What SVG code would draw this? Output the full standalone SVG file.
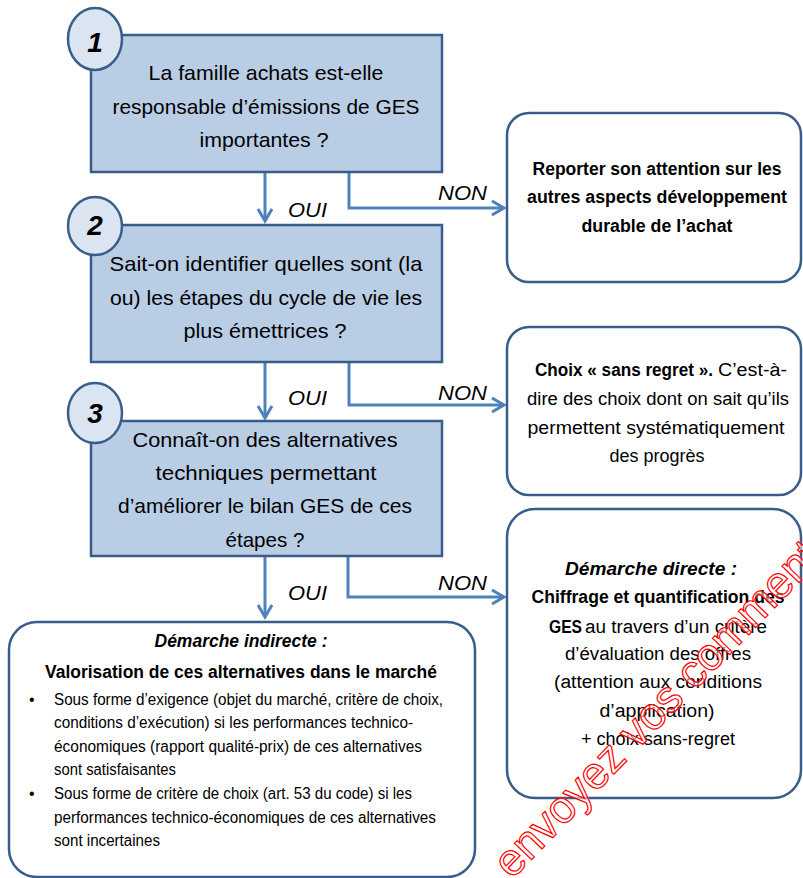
<svg xmlns="http://www.w3.org/2000/svg" width="803" height="878" viewBox="0 0 803 878">
<style>
text{font-family:"Liberation Sans",Arial,sans-serif;fill:#000}
.q{font-size:21px;text-anchor:middle}
.r{font-size:18px;text-anchor:middle}
.s{font-size:16px}
.b{font-weight:bold}
.bi{font-weight:bold;font-style:italic}
.it{font-style:italic}
.qbox{fill:#b9cde5;stroke:#385d8a;stroke-width:2.5}
.circ{fill:#dbe5f1;stroke:#385d8a;stroke-width:2.5}
.rbox{fill:#fff;stroke:#385d8a;stroke-width:2.5}
.num{font-size:28px;font-weight:bold;font-style:italic;text-anchor:middle}
.lab{font-size:21px;font-style:italic}
.con{fill:none;stroke:#4f81bd;stroke-width:3}
.wm{font-size:45px;fill:#fff;fill-opacity:0.55;stroke:#ff0000;stroke-width:1.2}
</style>
<defs>
<marker id="ah" markerUnits="userSpaceOnUse" markerWidth="16" markerHeight="18" refX="13" refY="8" orient="auto" viewBox="0 0 16 18">
<path d="M1,1 L13,8 L1,15" fill="none" stroke="#4f81bd" stroke-width="3"/>
</marker>
</defs>

<g id="connectors">
<path class="con" d="M265,172 V221" marker-end="url(#ah)"/>
<path class="con" d="M349,172 V208 H504" marker-end="url(#ah)"/>
<path class="con" d="M265,362 V418" marker-end="url(#ah)"/>
<path class="con" d="M349,362 V405 H504" marker-end="url(#ah)"/>
<path class="con" d="M265,556 V617" marker-end="url(#ah)"/>
<path class="con" d="M348,556 V597 H504" marker-end="url(#ah)"/>
<text class="lab" x="288" y="217" textLength="39" lengthAdjust="spacingAndGlyphs">OUI</text>
<text class="lab" x="438" y="200" textLength="49" lengthAdjust="spacingAndGlyphs">NON</text>
<text class="lab" x="288" y="405" textLength="39" lengthAdjust="spacingAndGlyphs">OUI</text>
<text class="lab" x="438" y="400" textLength="49" lengthAdjust="spacingAndGlyphs">NON</text>
<text class="lab" x="288" y="600" textLength="39" lengthAdjust="spacingAndGlyphs">OUI</text>
<text class="lab" x="438" y="590" textLength="49" lengthAdjust="spacingAndGlyphs">NON</text>
</g>

<g id="q1">
<rect class="qbox" x="91" y="35" width="351" height="137"/>
<ellipse class="circ" cx="95" cy="39" rx="27" ry="31"/>
<text class="num" x="95" y="52">1</text>
<text class="q" x="266" y="80" textLength="235" lengthAdjust="spacingAndGlyphs">La famille achats est-elle</text>
<text class="q" x="266" y="114" textLength="307" lengthAdjust="spacingAndGlyphs">responsable d’émissions de GES</text>
<text class="q" x="264" y="147" textLength="129" lengthAdjust="spacingAndGlyphs">importantes ?</text>
</g>

<g id="q2">
<rect class="qbox" x="91" y="225" width="351" height="137"/>
<ellipse class="circ" cx="95" cy="226" rx="27" ry="29"/>
<text class="num" x="95" y="235">2</text>
<text class="q" x="266" y="271" textLength="313" lengthAdjust="spacingAndGlyphs">Sait-on identifier quelles sont (la</text>
<text class="q" x="266" y="305" textLength="312" lengthAdjust="spacingAndGlyphs">ou) les étapes du cycle de vie les</text>
<text class="q" x="265" y="338" textLength="163" lengthAdjust="spacingAndGlyphs">plus émettrices ?</text>
</g>

<g id="q3">
<rect class="qbox" x="91" y="421" width="351" height="135"/>
<ellipse class="circ" cx="95" cy="413" rx="27" ry="30"/>
<text class="num" x="95" y="423">3</text>
<text class="q" x="265" y="447" textLength="265" lengthAdjust="spacingAndGlyphs">Connaît-on des alternatives</text>
<text class="q" x="266" y="480" textLength="221" lengthAdjust="spacingAndGlyphs">techniques permettant</text>
<text class="q" x="265" y="513" textLength="294" lengthAdjust="spacingAndGlyphs">d’améliorer le bilan GES de ces</text>
<text class="q" x="265" y="547" textLength="79" lengthAdjust="spacingAndGlyphs">étapes ?</text>
</g>

<g id="r1">
<rect class="rbox" x="507" y="113" width="294" height="169" rx="22"/>
<text class="r b" x="657" y="175" textLength="249" lengthAdjust="spacingAndGlyphs">Reporter son attention sur les</text>
<text class="r b" x="657" y="203" textLength="260" lengthAdjust="spacingAndGlyphs">autres aspects développement</text>
<text class="r b" x="657" y="232" textLength="151" lengthAdjust="spacingAndGlyphs">durable de l’achat</text>
</g>

<g id="r2">
<rect class="rbox" x="507" y="327" width="294" height="168" rx="22"/>
<text class="b" style="font-size:18px" x="535" y="376" textLength="178" lengthAdjust="spacingAndGlyphs">Choix « sans regret ».</text>
<text style="font-size:18px" x="718" y="376" textLength="69" lengthAdjust="spacingAndGlyphs">C’est-à-</text>
<text class="r" x="658" y="405" textLength="262" lengthAdjust="spacingAndGlyphs">dire des choix dont on sait qu’ils</text>
<text class="r" x="656" y="434" textLength="257" lengthAdjust="spacingAndGlyphs">permettent systématiquement</text>
<text class="r" x="657" y="462" textLength="95" lengthAdjust="spacingAndGlyphs">des progrès</text>
</g>

<g id="r3">
<rect class="rbox" x="507" y="509" width="294" height="289" rx="28"/>
<text class="r bi" x="651" y="575" textLength="172" lengthAdjust="spacingAndGlyphs">Démarche directe :</text>
<text class="r b" x="658" y="603" textLength="253" lengthAdjust="spacingAndGlyphs">Chiffrage et quantification des</text>
<text class="b" style="font-size:18px" x="549" y="633" textLength="33" lengthAdjust="spacingAndGlyphs">GES</text>
<text style="font-size:18px" x="585" y="633" textLength="182" lengthAdjust="spacingAndGlyphs">au travers d’un critère</text>
<text class="r" x="658" y="660" textLength="186" lengthAdjust="spacingAndGlyphs">d’évaluation des offres</text>
<text class="r" x="658" y="688" textLength="208" lengthAdjust="spacingAndGlyphs">(attention aux conditions</text>
<text class="r" x="657" y="717" textLength="115" lengthAdjust="spacingAndGlyphs">d’application)</text>
<text class="r" x="658" y="745" textLength="154" lengthAdjust="spacingAndGlyphs">+ choix sans-regret</text>
</g>

<g id="indirect">
<rect class="rbox" x="9" y="622" width="466" height="255" rx="28"/>
<text class="r bi" x="241" y="647" textLength="173" lengthAdjust="spacingAndGlyphs">Démarche indirecte :</text>
<text class="r b" x="241" y="678" textLength="392" lengthAdjust="spacingAndGlyphs">Valorisation de ces alternatives dans le marché</text>
<text class="s" x="29" y="705">•</text>
<text class="s" x="54" y="705" textLength="389" lengthAdjust="spacingAndGlyphs">Sous forme d’exigence (objet du marché, critère de choix,</text>
<text class="s" x="54" y="728" textLength="359" lengthAdjust="spacingAndGlyphs">conditions d’exécution) si les performances technico-</text>
<text class="s" x="54" y="752" textLength="368" lengthAdjust="spacingAndGlyphs">économiques (rapport qualité-prix) de ces alternatives</text>
<text class="s" x="54" y="775" textLength="122" lengthAdjust="spacingAndGlyphs">sont satisfaisantes</text>
<text class="s" x="29" y="799">•</text>
<text class="s" x="54" y="799" textLength="358" lengthAdjust="spacingAndGlyphs">Sous forme de critère de choix (art. 53 du code) si les</text>
<text class="s" x="54" y="823" textLength="382" lengthAdjust="spacingAndGlyphs">performances technico-économiques de ces alternatives</text>
<text class="s" x="54" y="846" textLength="106" lengthAdjust="spacingAndGlyphs">sont incertaines</text>
</g>

<g id="watermark">
<text class="wm" transform="translate(512,880) rotate(-46)" x="0" y="0">envoyez vos commentaires</text>
</g>
</svg>
